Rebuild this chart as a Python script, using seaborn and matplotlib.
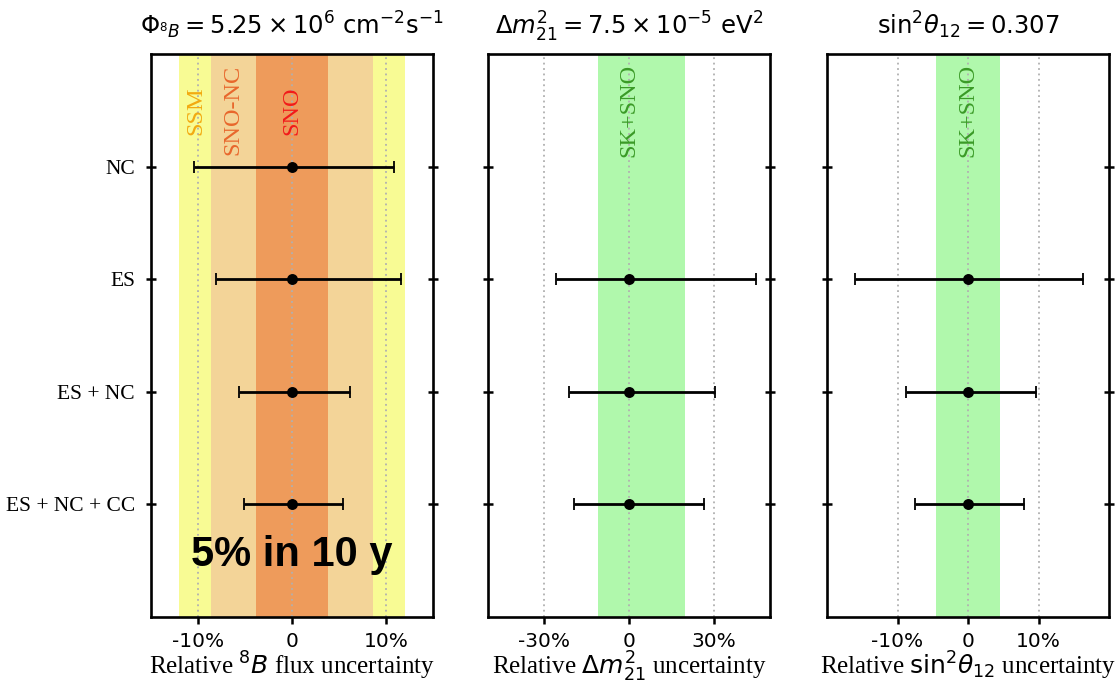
import numpy as np
import pandas as pd
import matplotlib
matplotlib.use("Agg")
import matplotlib.pyplot as plt
import seaborn as sns

# Channel combinations (rows, top to bottom)
categories = ["NC", "ES", "ES + NC", "ES + NC + CC"]

# Relative uncertainties in percent: lower / upper extent of each bar
flux_lower = [10.4, 8.1, 5.6, 5.1]
flux_upper = [10.8, 11.6, 6.2, 5.4]
dm21_lower = [np.nan, 25.8, 21.3, 19.4]
dm21_upper = [np.nan, 44.9, 30.4, 26.5]
s12_lower = [np.nan, 16.0, 8.85, 7.5]
s12_upper = [np.nan, 16.3, 9.7, 8.0]

# Existing-measurement bands (percent)
flux_band_names = ["SSM", "SNO-NC", "SNO"]
flux_band_lo = [-12.0, -8.6, -3.8]
flux_band_hi = [12.0, 8.6, 3.8]
dm21_band = [-11.0, 20.0]
s12_band = [-4.6, 4.6]

titles = [r"$\Phi_{^8B} = 5.25 \times 10^6\ \mathrm{cm}^{-2}\mathrm{s}^{-1}$",
          r"$\Delta m^2_{21} = 7.5 \times 10^{-5}\ \mathrm{eV}^2$",
          r"$\mathrm{sin}^2\theta_{12} = 0.307$"]
xlabels = [r"Relative $^8B$ flux uncertainty",
           r"Relative $\Delta m^2_{21}$ uncertainty",
           r"Relative $\mathrm{sin}^2\theta_{12}$ uncertainty"]
xticks = [[-10, 0, 10], [-30, 0, 30], [-10, 0, 10]]
xtick_labels = [["-10%", "0", "10%"], ["-30%", "0", "30%"], ["-10%", "0", "10%"]]
xlims = [15, 50, 20]

sns.set_theme(style="white")
plt.rcParams.update({
    "mathtext.fontset": "dejavusans",
    "axes.edgecolor": "black",
    "axes.linewidth": 1.9,
    "text.color": "black",
    "axes.labelcolor": "black",
    "xtick.color": "black",
    "ytick.color": "black",
    "axes.titlecolor": "black",
})

fig = plt.figure(figsize=(11.2, 6.84), dpi=100)
lefts = [151 / 1120, 488 / 1120, 827 / 1120]
axes = [fig.add_axes([l, 1 - 617 / 684, 282 / 1120, 563 / 684]) for l in lefts]

serif = ["Liberation Serif", "DejaVu Serif"]
ypos = np.arange(len(categories))

lowers = [flux_lower, dm21_lower, s12_lower]
uppers = [flux_upper, dm21_upper, s12_upper]

for i, ax in enumerate(axes):
    ax.set_facecolor("white")
    # reference grid at the tick positions
    for xv in xticks[i]:
        ax.axvline(xv, color="#b0b0b0", ls=(0, (1, 2.0)), lw=1.3, zorder=1)

    df = pd.DataFrame({"cat": categories, "y": ypos, "val": 0.0,
                       "lo": lowers[i], "hi": uppers[i]}).dropna()
    ax.errorbar(df["val"], df["y"], xerr=[df["lo"], df["hi"]], fmt="none",
                ecolor="black", elinewidth=2.0, capsize=4.0, capthick=1.3,
                zorder=4)
    sns.scatterplot(data=df, x="val", y="y", ax=ax, color="black", s=62,
                    edgecolor="black", linewidth=0, zorder=5, legend=False)

    ax.set_xlim(-xlims[i], xlims[i])
    ax.set_ylim(len(categories), -1)
    ax.set_yticks(ypos)
    if i == 0:
        ax.set_yticklabels(categories, family=serif, fontsize=15.5)
    else:
        ax.set_yticklabels([])
    ax.set_xticks(xticks[i])
    ax.set_xticklabels(xtick_labels[i], fontsize=14.5)
    ax.tick_params(axis="y", which="both", left=True, right=True,
                   direction="inout", length=7, width=1.8, pad=8)
    ax.tick_params(axis="x", bottom=True, top=False, direction="out",
                   length=5, width=1.8, pad=6)
    ax.set_xlabel(xlabels[i], family=serif, fontsize=18, labelpad=-1)
    ax.set_ylabel("")
    ax.set_title(titles[i], fontsize=17.5, pad=14)
    for sp in ax.spines.values():
        sp.set_visible(True)
        sp.set_color("black")
        sp.set_linewidth(1.9)

# Flux panel bands
ax = axes[0]
band_colors = ["#f8fb94", "#f3d498", "#ee9b5b"]
for lo, hi, c in zip(flux_band_lo, flux_band_hi, band_colors):
    ax.axvspan(lo, hi, color=c, lw=0, zorder=0)
label_x = [-10.2, -6.3, 0.0]
label_colors = ["#f2aa10", "#e8672c", "#f21a1a"]
for name, xv, c in zip(flux_band_names, label_x, label_colors):
    ax.text(xv, -0.5, name, rotation=90, ha="center", va="center",
            family=serif, fontsize=17.5, color=c, zorder=3)
ax.text(0, 3.45, "5% in 10 y", ha="center", va="center",
        family=["Liberation Sans", "DejaVu Sans"], fontweight="bold",
        fontsize=30, color="black", zorder=6)

# Oscillation-parameter bands
for ax, band in zip(axes[1:], [dm21_band, s12_band]):
    ax.axvspan(band[0], band[1], color="#b0f8ac", lw=0, zorder=0)
    ax.text(0, -0.5, "SK+SNO", rotation=90, ha="center", va="center",
            family=serif, fontsize=17.5, color="#3a9a26", zorder=3)

fig.savefig("out.png", dpi=100)
